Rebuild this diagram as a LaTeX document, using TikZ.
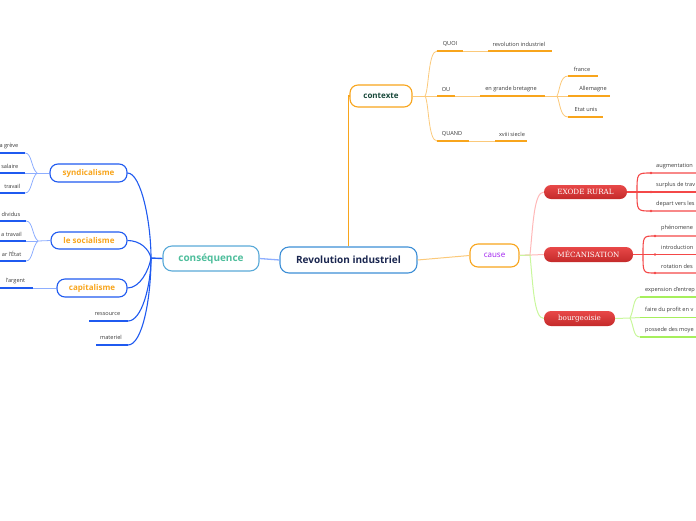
\documentclass[tikz,border=0pt]{standalone}
\usepackage{fontspec}
\setmainfont{Open Sans}
\newfontfamily\slab{DejaVu Serif}
\definecolor{orng}{HTML}{F8A51C}
\definecolor{lorng}{HTML}{FBC97A}
\definecolor{blu}{HTML}{1F5AF0}
\definecolor{lblu}{HTML}{8EAEFF}
\definecolor{rd}{HTML}{F44848}
\definecolor{pnk}{HTML}{FFB8B8}
\definecolor{grn}{HTML}{A6EF5C}
\definecolor{lgrn}{HTML}{C9F79C}
\definecolor{btop}{HTML}{E84848}
\definecolor{bbot}{HTML}{C42A2A}
\definecolor{cblue}{HTML}{3D8FD6}
\definecolor{tealb}{HTML}{5AAAD8}
\definecolor{navy}{HTML}{1B2750}
\definecolor{tealt}{HTML}{4EBE9C}
\definecolor{dgreen}{HTML}{1A4A3C}
\definecolor{purp}{HTML}{A020F0}
\definecolor{txt}{HTML}{3A3A3A}
\tikzset{
  box/.style={draw, fill=white, line width=1.1, inner sep=0, rounded corners=8},
  badge/.style={top color=btop, bottom color=bbot, draw=none, rounded corners=7, inner sep=0,
     text=white, font=\slab\fontsize{7.2}{8}\selectfont},
  sub/.style={font=\fontsize{5.6}{7}\selectfont, text=txt, inner sep=0},
  ulO/.style={orng, line width=1.3},
  cnO/.style={lorng, line width=0.8},
  ulB/.style={blu, line width=1.3},
  cnB/.style={lblu, line width=0.8},
  ulR/.style={rd, line width=1.1},
  ulG/.style={grn, line width=1.5},
  cnG/.style={lgrn, line width=1.0},
  dotR/.style={fill=rd, draw=none, circle, inner sep=0, minimum size=2.6}
}
\begin{document}
\begin{tikzpicture}[x=1pt,y=-1pt]
\useasboundingbox (0,0) rectangle (696,520);
\clip (0,0) rectangle (696,520);

% ---------- coordinates ----------
% contexte branch
\coordinate (cf) at (425,96);
\coordinate (quoiA) at (437,51);  \coordinate (quoiB) at (463,51);
\coordinate (revA) at (488,51);   \coordinate (revB) at (552,51);
\coordinate (ouA) at (437,96);    \coordinate (ouB) at (455,96);
\coordinate (gbA) at (480,96);    \coordinate (gbB) at (545,96);
\coordinate (gf) at (557,96);
\coordinate (frA) at (568,76);    \coordinate (frB) at (598,76);
\coordinate (alA) at (568,96);    \coordinate (alB) at (610,96);
\coordinate (euA) at (568,117);   \coordinate (euB) at (603,117);
\coordinate (quA) at (437,141);   \coordinate (quB) at (469,141);
\coordinate (xvA) at (495,141);   \coordinate (xvB) at (527,141);

% ---------- nodes ----------
\node[box, draw=cblue, minimum width=137, minimum height=26, rounded corners=9,
      font=\bfseries\fontsize{10}{12}\selectfont, text=navy] (root) at (348.5,260) {Revolution industriel};
\node[box, draw=tealb, minimum width=96, minimum height=25, rounded corners=9,
      font=\bfseries\fontsize{10}{12}\selectfont, text=tealt] (cons) at (211,258.5) {conséquence};
\node[box, draw=orng, minimum width=62, minimum height=22,
      font=\bfseries\fontsize{8}{10}\selectfont, text=dgreen] (ctx) at (381,96) {contexte};
\node[box, draw=orng, minimum width=49, minimum height=23,
      font=\fontsize{8}{10}\selectfont, text=purp] (cause) at (494.5,255.5) {cause};

\node[badge, minimum width=83, minimum height=14] (exode) at (585.5,192) {EXODE RURAL};
\node[badge, minimum width=89, minimum height=15] (meca) at (588.5,254.5) {MÉCANISATION};
\node[badge, minimum width=71, minimum height=15] (bourg) at (579.5,318.5) {bourgeoisie};

\node[box, draw=blu, minimum width=77, minimum height=18,
      font=\bfseries\fontsize{8}{10}\selectfont, text=orng] (synd) at (88.5,173) {syndicalisme};
\node[box, draw=blu, minimum width=76, minimum height=17,
      font=\bfseries\fontsize{8}{10}\selectfont, text=orng] (soc) at (89,240.5) {le socialisme};
\node[box, draw=blu, minimum width=70, minimum height=18,
      font=\bfseries\fontsize{8}{10}\selectfont, text=orng] (capi) at (92,288) {capitalisme};

% ---------- root connectors ----------
\draw[orng, line width=1.3] (root.north) -- (root.north |- ctx.west) -- (ctx.west);
\draw[lblu, line width=1.3] (cons.east) -- (root.west);
\draw[lorng, line width=1.0] (root.east) -- (cause.west);

% ---------- contexte ----------
\draw[cnO] (ctx.east) -- (cf);
\draw[cnO] (cf) .. controls (429,90) and (428,51) .. (quoiA);
\draw[cnO] (cf) -- (ouA);
\draw[cnO] (cf) .. controls (429,102) and (428,141) .. (quA);
\draw[ulO] (quoiA) -- (quoiB);
\draw[cnO] (quoiB) -- (revA);
\draw[ulO] (revA) -- (revB);
\draw[ulO] (ouA) -- (ouB);
\draw[cnO] (ouB) -- (gbA);
\draw[ulO] (gbA) -- (gbB);
\draw[cnO] (gbB) -- (gf);
\draw[cnO] (gf) .. controls (560,90) and (560,76) .. (frA);
\draw[cnO] (gf) -- (alA);
\draw[cnO] (gf) .. controls (560,102) and (560,117) .. (euA);
\draw[ulO] (frA) -- (frB);
\draw[ulO] (alA) -- (alB);
\draw[ulO] (euA) -- (euB);
\draw[ulO] (quA) -- (quB);
\draw[cnO] (quB) -- (xvA);
\draw[ulO] (xvA) -- (xvB);

\node[sub] (tquoi) at (450,44) {QUOI};
\node[sub] (trev) at (519,44) {revolution industriel};
\node[sub] (tou) at (446,89) {OU};
\node[sub] (tgb) at (511,89) {en grande bretagne};
\node[sub] (tfr) at (582,69) {france};
\node[sub] (tal) at (593,89) {Allemagne};
\node[sub] (teu) at (586,109) {Etat unis};
\node[sub] (tqu) at (452,134) {QUAND};
\node[sub] (txv) at (512,134) {xviii siecle};

% ---------- cause ----------
\coordinate (gk) at (530,255);
\draw[pnk, line width=1.0] (cause.east) -- (gk) .. controls (533,225) and (534,192) .. (exode.west);
\draw[pnk, line width=1.0] (cause.east) -- (meca.west);
\draw[lgrn, line width=1.0] (cause.east) -- (gk) .. controls (533,285) and (534,318.5) .. (bourg.west);

% exode rural children
\coordinate (ex1) at (651,173); \coordinate (ex2) at (651,192); \coordinate (ex3) at (651,211);
\coordinate (exk) at (637,192);
\coordinate (exE1) at (696,173); \coordinate (exE2) at (696,192); \coordinate (exE3) at (696,211);
\draw[ulR] (exode.east) -- (exE2);
\draw[ulR] (exk) .. controls (637,173) .. (ex1) -- (exE1);
\draw[ulR] (exk) .. controls (637,211) .. (ex3) -- (exE3);
\node[dotR] at (ex1) {}; \node[dotR] at (ex2) {}; \node[dotR] at (ex3) {};
\node[sub, anchor=west] (ta1) at (656,166) {augmentation};
\node[sub, anchor=west] (ta2) at (656,185) {surplus de trav};
\node[sub, anchor=west] (ta3) at (656,204) {depart vers les};

% mecanisation children
\coordinate (me1) at (655,236); \coordinate (me2) at (655,254.5); \coordinate (me3) at (655,273);
\coordinate (mek) at (643,254.5);
\coordinate (meE1) at (696,236); \coordinate (meE2) at (696,254.5); \coordinate (meE3) at (696,273);
\draw[ulR] (meca.east) -- (meE2);
\draw[ulR] (mek) .. controls (643,236) .. (me1) -- (meE1);
\draw[ulR] (mek) .. controls (643,273) .. (me3) -- (meE3);
\node[dotR] at (me1) {}; \node[dotR] at (me2) {}; \node[dotR] at (me3) {};
\node[sub, anchor=west] (tm1) at (661,228) {phénomene};
\node[sub, anchor=west] (tm2) at (661,247) {introduction};
\node[sub, anchor=west] (tm3) at (661,266) {rotation des};

% bourgeoisie children
\coordinate (bk) at (630,318);
\coordinate (bo1) at (640,297); \coordinate (bo2) at (640,317.5); \coordinate (bo3) at (640,337);
\coordinate (boE1) at (696,297); \coordinate (boE2) at (696,317.5); \coordinate (boE3) at (696,337);
\draw[cnG] (bourg.east) -- (bk);
\draw[cnG] (bk) .. controls (634,310) and (633,297) .. (bo1);
\draw[cnG] (bk) -- (bo2);
\draw[cnG] (bk) .. controls (634,326) and (633,337) .. (bo3);
\draw[ulG] (bo1) -- (boE1);
\draw[ulG] (bo2) -- (boE2);
\draw[ulG] (bo3) -- (boE3);
\node[sub, anchor=west] (tb1) at (645,290.5) {expension d'entrep};
\node[sub, anchor=west] (tb2) at (645,310.5) {faire du profit en v};
\node[sub, anchor=west] (tb3) at (645,330.5) {possede des moye};

% ---------- conséquence ----------
\coordinate (F) at (151,258);
\coordinate (resA) at (89,321);  \coordinate (resB) at (128,321);
\coordinate (matA) at (96,345);  \coordinate (matB) at (128,345);
\draw[blu, line width=1.4] (F) -- (cons.west);
\draw[blu, line width=1.1] (F) .. controls (151,222) and (141,173) .. (synd.east);
\draw[blu, line width=1.1] (F) .. controls (149,249) and (140,240.5) .. (soc.east);
\draw[blu, line width=1.1] (F) .. controls (149,270) and (140,288) .. (capi.east);
\draw[blu, line width=1.1] (F) .. controls (151,285) and (142,321) .. (resB);
\draw[blu, line width=1.1] (F) .. controls (151,300) and (142,345) .. (matB);
\draw[ulB] (resA) -- (resB);
\draw[ulB] (matA) -- (matB);
\node[sub] (tres) at (107.5,313.5) {ressource};
\node[sub] (tmat) at (111,337.5) {materiel};

% syndicalisme children
\coordinate (sk) at (37,173);
\coordinate (s1) at (25,153); \coordinate (s2) at (25,173); \coordinate (s3) at (25,193);
\coordinate (s1a) at (0,153); \coordinate (s2a) at (0,173); \coordinate (s3a) at (0,193);
\draw[cnB] (synd.west) -- (sk);
\draw[cnB] (sk) .. controls (31,168) and (32,153) .. (s1);
\draw[cnB] (sk) -- (s2);
\draw[cnB] (sk) .. controls (31,178) and (32,193) .. (s3);
\draw[ulB] (s1a) -- (s1); \draw[ulB] (s2a) -- (s2); \draw[ulB] (s3a) -- (s3);
\node[sub, anchor=east] (ts1) at (18.5,146.5) {a grève};
\node[sub, anchor=east] (ts2) at (18.5,166) {salaire};
\node[sub, anchor=east] (ts3) at (20.5,186) {travail};

% socialisme children
\coordinate (ok) at (38,241);
\coordinate (o1) at (26,221); \coordinate (o2) at (26,241); \coordinate (o3) at (26,261);
\coordinate (o1a) at (0,221); \coordinate (o2a) at (0,241); \coordinate (o3a) at (0,261);
\draw[cnB] (soc.west) -- (ok);
\draw[cnB] (ok) .. controls (32,236) and (33,221) .. (o1);
\draw[cnB] (ok) -- (o2);
\draw[cnB] (ok) .. controls (32,246) and (33,261) .. (o3);
\draw[ulB] (o1a) -- (o1); \draw[ulB] (o2a) -- (o2); \draw[ulB] (o3a) -- (o3);
\node[sub, anchor=east] (to1) at (20.5,214) {dividus};
\node[sub, anchor=east] (to2) at (22,234) {a travail};
\node[sub, anchor=east] (to3) at (21.5,253.5) {ar l'État};

% capitalisme child
\coordinate (agA) at (0,288); \coordinate (agB) at (33,288);
\draw[cnB] (agB) -- (capi.west);
\draw[ulB] (agA) -- (agB);
\node[sub] (tag) at (15.5,281) {l'argent};

\end{tikzpicture}
\end{document}
